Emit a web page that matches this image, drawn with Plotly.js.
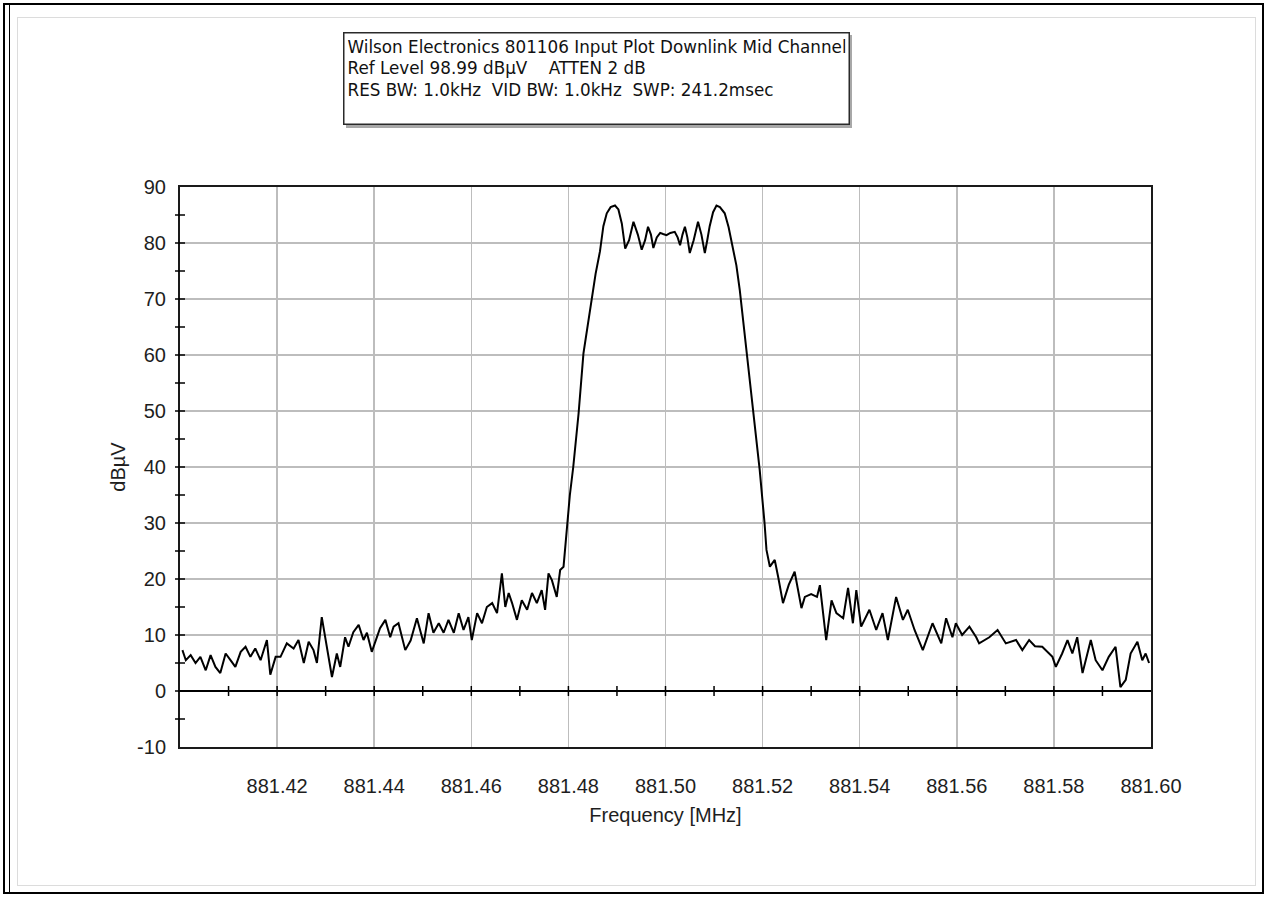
<!DOCTYPE html>
<html>
<head>
<meta charset="utf-8">
<script src="https://cdn.plot.ly/plotly-3.0.1.min.js"></script>
<style>
  html, body { margin: 0; padding: 0; background: #ffffff; }
  #wrap { position: relative; width: 1267px; height: 897px; overflow: hidden; }
  #chart { position: absolute; left: 0; top: 0; width: 1267px; height: 897px; }
  .frame { position: absolute; pointer-events: none; }
</style>
</head>
<body>
<div id="wrap">
  <div id="chart"></div>
  <div class="frame" style="left:3px;top:3px;width:1257px;height:887px;border:2px solid #000;"></div>
  <div class="frame" style="left:9px;top:5px;width:0px;height:887px;border-left:1px solid #000;"></div>
  <div class="frame" style="left:17px;top:17px;width:1237px;height:867px;border:1px solid #dcdcdc;"></div>
</div>
<script>
// ---- data ----
const freqMHz = [
  881.4005, 881.4012, 881.4022, 881.4032, 881.4042, 881.4053, 881.4063, 881.4073, 881.4083, 881.4094,
  881.4104, 881.4114, 881.4125, 881.4135, 881.4145, 881.4155, 881.4166, 881.4179, 881.4186, 881.4197,
  881.4207, 881.4220, 881.4234, 881.4244, 881.4255, 881.4265, 881.4275, 881.4282, 881.4292, 881.4303,
  881.4313, 881.4323, 881.4330, 881.4340, 881.4347, 881.4357, 881.4368, 881.4378, 881.4385, 881.4395,
  881.4405, 881.4412, 881.4423, 881.4433, 881.4440, 881.4450, 881.4464, 881.4475, 881.4488, 881.4502,
  881.4512, 881.4522, 881.4533, 881.4543, 881.4553, 881.4564, 881.4574, 881.4584, 881.4594, 881.4601,
  881.4612, 881.4622, 881.4632, 881.4643, 881.4653, 881.4663, 881.4670, 881.4677, 881.4684, 881.4694,
  881.4704, 881.4715, 881.4725, 881.4735, 881.4745, 881.4752, 881.4759, 881.4766, 881.4776, 881.4783,
  881.4790, 881.4797, 881.4803, 881.4810, 881.4821, 881.4831, 881.4840, 881.4848, 881.4856, 881.4865,
  881.4872, 881.4879, 881.4887, 881.4896, 881.4903, 881.4910, 881.4917, 881.4925, 881.4934, 881.4943,
  881.4951, 881.4958, 881.4964, 881.4970, 881.4975, 881.4982, 881.4989, 881.4995, 881.5002, 881.5010,
  881.5019, 881.5025, 881.5030, 881.5035, 881.5040, 881.5045, 881.5050, 881.5058, 881.5067, 881.5074,
  881.5081, 881.5086, 881.5091, 881.5098, 881.5105, 881.5112, 881.5122, 881.5130, 881.5139, 881.5146,
  881.5153, 881.5167, 881.5180, 881.5194, 881.5204, 881.5208, 881.5215, 881.5225, 881.5232, 881.5242,
  881.5254, 881.5266, 881.5280, 881.5287, 881.5300, 881.5312, 881.5318, 881.5331, 881.5342, 881.5352,
  881.5366, 881.5376, 881.5386, 881.5393, 881.5403, 881.5420, 881.5434, 881.5447, 881.5458, 881.5475,
  881.5489, 881.5499, 881.5513, 881.5530, 881.5550, 881.5568, 881.5578, 881.5591, 881.5598, 881.5611,
  881.5626, 881.5640, 881.5646, 881.5667, 881.5684, 881.5701, 881.5722, 881.5735, 881.5749, 881.5761,
  881.5776, 881.5797, 881.5804, 881.5817, 881.5828, 881.5838, 881.5848, 881.5859, 881.5876, 881.5886,
  881.5900, 881.5913, 881.5927, 881.5937, 881.5948, 881.5958, 881.5972, 881.5982, 881.5989, 881.5996
];
const leveldBuV = [
  7.3, 5.5, 6.4, 5.0, 6.1, 3.7, 6.4, 4.3, 3.2, 6.7,
  5.5, 4.3, 7.0, 7.9, 6.1, 7.6, 5.5, 9.1, 2.9, 6.1,
  6.1, 8.5, 7.6, 9.1, 5.0, 8.8, 7.3, 5.0, 13.2, 7.9,
  2.5, 6.7, 4.3, 9.6, 7.9, 10.5, 11.8, 9.1, 10.4, 7.0,
  9.6, 11.2, 12.7, 9.6, 11.5, 12.1, 7.3, 9.0, 13.0, 8.5,
  13.9, 10.4, 12.1, 10.4, 12.7, 10.4, 13.9, 10.9, 13.2, 9.1,
  13.9, 12.1, 15.0, 15.7, 13.9, 21.0, 15.0, 17.5, 15.7, 12.7,
  16.2, 14.5, 17.5, 15.7, 18.0, 14.5, 21.0, 19.8, 16.8, 21.6,
  22.2, 30.0, 35.0, 40.0, 49.6, 60.3, 65.5, 69.8, 74.5, 78.5,
  83.0, 85.3, 86.4, 86.7, 86.0, 83.5, 79.0, 80.5, 83.8, 81.5,
  78.8, 80.5, 82.9, 81.5, 79.1, 81.0, 81.8, 81.6, 81.4, 81.8,
  82.0, 81.0, 79.6, 81.5, 82.9, 81.0, 78.2, 80.5, 83.8, 81.5,
  78.2, 80.5, 83.0, 85.5, 86.7, 86.4, 85.3, 82.8, 79.3, 76.0,
  71.6, 60.3, 49.6, 39.5, 30.0, 25.2, 22.2, 23.4, 20.4, 15.7,
  19.0, 21.3, 14.8, 16.8, 17.3, 16.8, 18.9, 9.1, 16.2, 13.9,
  13.0, 18.4, 12.1, 18.0, 11.5, 14.5, 10.9, 13.9, 9.1, 16.8,
  12.7, 14.5, 10.9, 7.3, 12.1, 8.5, 13.0, 9.6, 12.1, 10.0,
  11.5, 9.6, 8.5, 9.6, 10.9, 8.5, 9.1, 7.3, 9.1, 8.0,
  7.9, 6.1, 4.3, 6.7, 9.1, 6.7, 9.6, 3.2, 9.1, 5.5,
  3.7, 6.1, 7.9, 0.7, 2.0, 6.7, 8.8, 5.5, 6.7, 5.0
];
const xTickVals = [881.42, 881.44, 881.46, 881.48, 881.50, 881.52, 881.54, 881.56, 881.58, 881.60];
const xTickText = ["881.42", "881.44", "881.46", "881.48", "881.50", "881.52", "881.54", "881.56", "881.58", "881.60"];
const yTickVals = [-10, 0, 10, 20, 30, 40, 50, 60, 70, 80, 90];
const yTickText = ["-10", "0", "10", "20", "30", "40", "50", "60", "70", "80", "90"];
const xMinorTicks = [881.41, 881.42, 881.43, 881.44, 881.45, 881.46, 881.47, 881.48, 881.49, 881.50,
                     881.51, 881.52, 881.53, 881.54, 881.55, 881.56, 881.57, 881.58, 881.59];
const yMinorTicks = [-5, 0, 5, 10, 15, 20, 25, 30, 35, 40, 45, 50, 55, 60, 65, 70, 75, 80, 85];
const headerLines = [
  "Wilson Electronics 801106 Input Plot Downlink Mid Channel",
  "Ref Level 98.99 dBµV    ATTEN 2 dB",
  "RES BW: 1.0kHz  VID BW: 1.0kHz  SWP: 241.2msec"
];

const X_RANGE = [881.40, 881.60];
const Y_RANGE = [-10, 90];
const FONT = "Liberation Sans, Arial, sans-serif";
const TXT = '#1e1e1e';

// plot-area geometry used only to place decorations in paper space
const PLOT_L = 180, PLOT_W = 971, PLOT_B = 747, PLOT_H = 560;
const px2paperX = px => (px - PLOT_L) / PLOT_W;
const px2paperY = py => (PLOT_B - py) / PLOT_H;
const yValToPaper = v => (v - Y_RANGE[0]) / (Y_RANGE[1] - Y_RANGE[0]);

const shapes = [];
// shadow behind the header box
shapes.push({
  type: 'rect', xref: 'paper', yref: 'paper', layer: 'below',
  x0: px2paperX(346), x1: px2paperX(852), y0: px2paperY(35), y1: px2paperY(128),
  line: {width: 0}, fillcolor: '#a8a8a8'
});
// y-axis ticks crossing the left axis line (every 5 dBµV)
yMinorTicks.forEach(v => shapes.push({
  type: 'line', xref: 'paper', yref: 'paper', xsizemode: 'pixel', xanchor: 0,
  x0: -5, x1: 5, y0: yValToPaper(v), y1: yValToPaper(v), line: {color: '#000', width: 1.5}
}));
// x-axis ticks crossing the zero line (every 0.01 MHz)
xMinorTicks.forEach(v => shapes.push({
  type: 'line', xref: 'x', yref: 'y', ysizemode: 'pixel', yanchor: 0,
  y0: -5, y1: 5, x0: v, x1: v, line: {color: '#000', width: 1.5}
}));

const trace = {
  type: 'scatter', mode: 'lines',
  x: freqMHz, y: leveldBuV,
  line: {color: '#000000', width: 2},
  hoverinfo: 'x+y', showlegend: false
};

const layout = {
  width: 1267, height: 897,
  margin: {l: 180, r: 116, t: 187, b: 150, pad: 0},
  paper_bgcolor: '#ffffff', plot_bgcolor: '#ffffff',
  font: {family: FONT, size: 20, color: TXT},
  showlegend: false,
  xaxis: {
    range: X_RANGE, autorange: false,
    tickmode: 'array', tickvals: xTickVals, ticktext: xTickText,
    ticks: '', ticklabelstandoff: 20,
    showgrid: true, gridcolor: '#bdbdbd', gridwidth: 1.5,
    zeroline: false,
    showline: true, linecolor: '#1a1a1a', linewidth: 2, mirror: true,
    tickfont: {family: FONT, size: 20, color: TXT},
    title: {text: 'Frequency [MHz]', font: {family: FONT, size: 20, color: TXT}, standoff: 12}
  },
  yaxis: {
    range: Y_RANGE, autorange: false,
    tickmode: 'array', tickvals: yTickVals, ticktext: yTickText,
    ticks: '', ticklabelstandoff: 8,
    showgrid: true, gridcolor: '#bdbdbd', gridwidth: 1.5,
    zeroline: true, zerolinecolor: '#000', zerolinewidth: 2,
    showline: true, linecolor: '#1a1a1a', linewidth: 2, mirror: true,
    tickfont: {family: FONT, size: 20, color: TXT},
    title: {text: 'dBµV', font: {family: FONT, size: 20, color: TXT}, standoff: 6}
  },
  shapes: shapes,
  annotations: [{
    xref: 'paper', yref: 'paper',
    x: px2paperX(343), y: px2paperY(32),
    xanchor: 'left', yanchor: 'top',
    text: headerLines.join('<br>'),
    align: 'left', valign: 'top',
    width: 498, height: 84,
    showarrow: false,
    bordercolor: '#2a2a2a', borderwidth: 1.5, borderpad: 3,
    bgcolor: '#ffffff',
    font: {family: "DejaVu Sans, Verdana, sans-serif", size: 16.8, color: '#111'}
  }]
};

Plotly.newPlot('chart', [trace], layout, {displayModeBar: false, staticPlot: true});
</script>
</body>
</html>
